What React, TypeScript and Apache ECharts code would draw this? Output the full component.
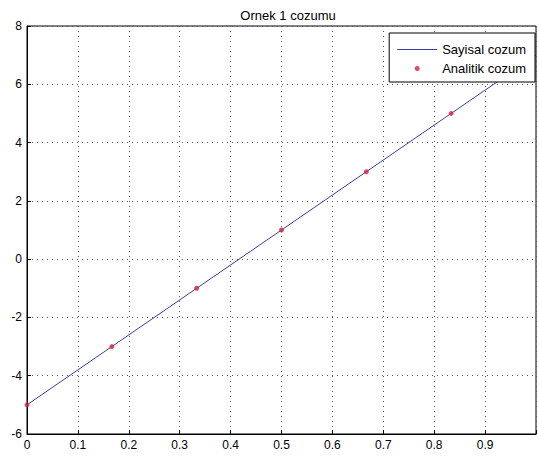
import React, { useEffect, useRef } from "react";
import * as echarts from "echarts";

const titleText = "Ornek 1 cozumu";
const lineName = "Sayisal cozum";
const pointName = "Analitik cozum";
const lineX = [0, 1 / 6, 2 / 6, 3 / 6, 4 / 6, 5 / 6, 1];
const lineY = [-5, -3, -1, 1, 3, 5, 7];
const pointX = [0, 1 / 6, 2 / 6, 3 / 6, 4 / 6, 5 / 6];
const pointY = [-5, -3, -1, 1, 3, 5];

export default function App() {
  const ref = useRef<HTMLDivElement>(null);
  useEffect(() => {
    document.body.style.margin = "0";
    const chart = echarts.init(ref.current!, null, { renderer: "svg" });
    const font = "Arial, 'Liberation Sans', sans-serif";
    chart.setOption({
      animation: false,
      backgroundColor: "#ffffff",
      title: {
        text: titleText,
        left: 283,
        textAlign: "center",
        top: 4,
        textStyle: { fontSize: 13, fontWeight: "normal", color: "#000", fontFamily: font },
      },
      legend: {
        orient: "vertical",
        right: 4,
        top: 33,
        backgroundColor: "#fff",
        borderColor: "#000",
        borderWidth: 1,
        borderRadius: 0,
        padding: [10, 9, 7, 8],
        itemGap: 6,
        itemWidth: 40,
        itemHeight: 5,
        textStyle: { fontSize: 13, color: "#000", fontFamily: font },
        data: [
          { name: lineName, icon: "path://M0,0H40V1H0Z", itemStyle: { color: "#3b3ba6" } },
          { name: pointName, icon: "circle" },
        ],
      },
      grid: { left: 27, top: 26, right: -4, bottom: 25, show: true, borderColor: "#000", borderWidth: 1 },
      xAxis: {
        type: "value",
        min: 0,
        max: 1,
        interval: 0.1,
        axisLine: { show: true, onZero: false, lineStyle: { color: "#000" } },
        axisTick: { show: true, inside: true, length: 4, lineStyle: { color: "#000" } },
        axisLabel: {
          color: "#000",
          fontSize: 12,
          fontFamily: font,
          margin: 5,
          formatter: (v: number) => (v >= 0.999 ? "" : String(Math.round(v * 10) / 10)),
        },
        splitLine: { show: true, lineStyle: { color: "#555", type: [1, 4] } },
      },
      yAxis: {
        type: "value",
        min: -6,
        max: 8,
        interval: 2,
        axisLine: { show: true, onZero: false, lineStyle: { color: "#000" } },
        axisTick: { show: true, inside: true, length: 4, lineStyle: { color: "#000" } },
        axisLabel: { color: "#000", fontSize: 12, fontFamily: font, margin: 5 },
        splitLine: { show: true, lineStyle: { color: "#555", type: [1, 4] } },
      },
      series: [
        {
          name: lineName,
          type: "line",
          data: lineX.map((x, i) => [x, lineY[i]]),
          symbol: "none",
          showSymbol: false,
          lineStyle: { color: "#3b3ba6", width: 1 },
          itemStyle: { color: "#3b3ba6" },
          z: 2,
        },
        {
          name: pointName,
          type: "scatter",
          data: pointX.map((x, i) => [x, pointY[i]]),
          symbol: "circle",
          symbolSize: 5,
          itemStyle: { color: "#d8203c" },
          z: 3,
        },
      ],
    });
    return () => chart.dispose();
  }, []);
  return <div ref={ref} style={{ width: 539, height: 459 }} />;
}
